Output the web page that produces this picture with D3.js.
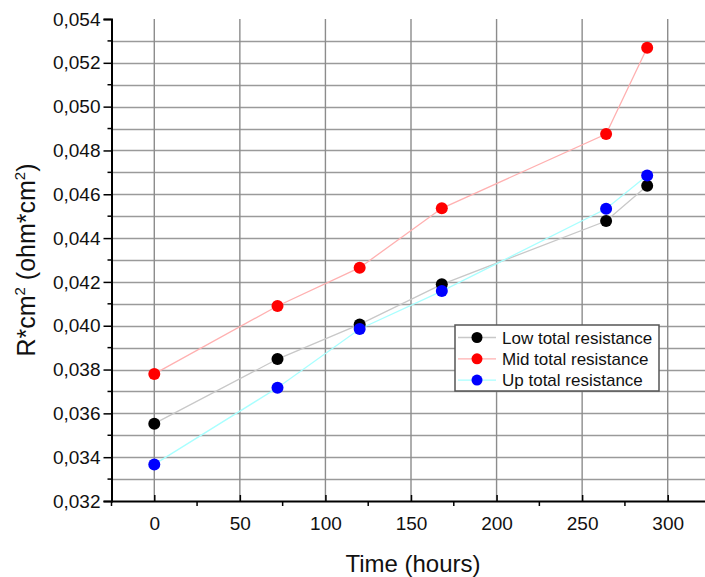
<!DOCTYPE html>
<html>
<head>
<meta charset="utf-8">
<script src="https://cdn.jsdelivr.net/npm/d3@7"></script>
<style>
  body { margin: 0; background: #fff; }
  svg { font-family: Arial, "Liberation Sans", sans-serif; }
</style>
</head>
<body>
<div id="chart"></div>
<script>
// data
var hours = [0, 72, 120, 168, 264, 288];
var lowTotal = [0.03553, 0.03848, 0.04006, 0.04189, 0.04478, 0.04639];
var midTotal = [0.0378, 0.0409, 0.04265, 0.04536, 0.04875, 0.05269];
var upTotal = [0.03367, 0.03717, 0.03985, 0.04158, 0.04534, 0.04686];
var seriesNames = ["Low total resistance", "Mid total resistance", "Up total resistance"];
var xTicks = [0, 50, 100, 150, 200, 250, 300];
var yTicks = [0.032, 0.034, 0.036, 0.038, 0.040, 0.042, 0.044, 0.046, 0.048, 0.050, 0.052, 0.054];

var width = 705, height = 577;

var series = [
    {name: seriesNames[0], values: lowTotal, dot: "#000000", line: "#c8c8c8"},
    {name: seriesNames[1], values: midTotal, dot: "#ff0000", line: "#ffb0b0"},
    {name: seriesNames[2], values: upTotal, dot: "#0000ff", line: "#a8ffff"}
];

var x = d3.scaleLinear().domain([-25, 325]).range([111.5, 710.5]);
var y = d3.scaleLinear().domain([0.032, 0.054]).range([501, 19]);

var svg = d3.select("#chart").append("svg")
    .attr("width", width)
    .attr("height", height);

var fmt = function (d) { return d3.format(".3f")(d).replace(".", ","); };

// horizontal grid, every 0.001
var hGrid = d3.range(0.033, 0.0535, 0.001);
svg.append("g").selectAll("line")
    .data(hGrid)
    .enter().append("line")
    .attr("x1", x(-25)).attr("x2", width)
    .attr("y1", function (d) { return Math.round(y(d)) + 0.5; })
    .attr("y2", function (d) { return Math.round(y(d)) + 0.5; })
    .attr("stroke", "#9a9a9a")
    .attr("stroke-width", 1.4);

// vertical grid
svg.append("g").selectAll("line")
    .data(xTicks)
    .enter().append("line")
    .attr("x1", function (d) { return x(d); })
    .attr("x2", function (d) { return x(d); })
    .attr("y1", y(0.054)).attr("y2", y(0.032))
    .attr("stroke", "#8c8c8c")
    .attr("stroke-width", 1.4);

// series lines
var line = d3.line()
    .x(function (d, i) { return x(hours[i]); })
    .y(function (d) { return y(d); });

series.forEach(function (s) {
    svg.append("path")
        .datum(s.values)
        .attr("fill", "none")
        .attr("stroke", s.line)
        .attr("stroke-width", 1.3)
        .attr("d", line);
});

// markers
series.forEach(function (s) {
    svg.append("g").selectAll("circle")
        .data(s.values)
        .enter().append("circle")
        .attr("cx", function (d, i) { return x(hours[i]); })
        .attr("cy", function (d) { return y(d); })
        .attr("r", 6)
        .attr("fill", s.dot);
});

// Y axis
var yAxis = d3.axisLeft(y).tickValues(yTicks).tickFormat(fmt).tickSize(8).tickPadding(3);
var gy = svg.append("g")
    .attr("transform", "translate(" + x(-25) + ",0)")
    .call(yAxis);
gy.select(".domain").attr("stroke-width", 2);
gy.selectAll(".tick line").attr("stroke-width", 1.5);
gy.selectAll("text").attr("font-size", 19).attr("fill", "#111");
// minor y ticks
svg.append("g").selectAll("line")
    .data(d3.range(0.033, 0.054, 0.002))
    .enter().append("line")
    .attr("x1", x(-25) - 4).attr("x2", x(-25))
    .attr("y1", function (d) { return y(d); })
    .attr("y2", function (d) { return y(d); })
    .attr("stroke", "#000").attr("stroke-width", 1.5);

// X axis
var xAxis = d3.axisBottom(x).tickValues(xTicks).tickSizeInner(-6).tickSizeOuter(0).tickPadding(16);
var gx = svg.append("g")
    .attr("transform", "translate(0," + y(0.032) + ")")
    .call(xAxis);
gx.select(".domain").attr("stroke-width", 2);
gx.selectAll(".tick line").attr("stroke-width", 1.5);
gx.selectAll("text").attr("font-size", 19).attr("fill", "#111");
// minor x ticks
svg.append("g").selectAll("line")
    .data([-25, 25, 75, 125, 175, 225, 275, 325])
    .enter().append("line")
    .attr("x1", function (d) { return x(d); })
    .attr("x2", function (d) { return x(d); })
    .attr("y1", y(0.032)).attr("y2", y(0.032) + 5)
    .attr("stroke", "#000").attr("stroke-width", 1.5);

// axis titles
svg.append("text")
    .attr("x", 413)
    .attr("y", 572)
    .attr("text-anchor", "middle")
    .attr("font-size", 24)
    .attr("fill", "#111")
    .text("Time (hours)");

var yt = svg.append("text")
    .attr("transform", "translate(35,260) rotate(-90)")
    .attr("text-anchor", "middle")
    .attr("font-size", 25)
    .attr("fill", "#111");
yt.append("tspan").text("R*cm");
yt.append("tspan").attr("font-size", 15).attr("dy", -10).text("2");
yt.append("tspan").attr("dy", 10).text(" (ohm*cm");
yt.append("tspan").attr("font-size", 15).attr("dy", -10).text("2");
yt.append("tspan").attr("dy", 10).text(")");

// legend
var legend = svg.append("g").attr("transform", "translate(455,325)");
legend.append("rect")
    .attr("width", 204).attr("height", 66)
    .attr("fill", "#fff")
    .attr("stroke", "#555")
    .attr("stroke-width", 1.5);
series.forEach(function (s, i) {
    var ly = 12.5 + i * 21.3;
    legend.append("line")
        .attr("x1", 3).attr("x2", 41)
        .attr("y1", ly).attr("y2", ly)
        .attr("stroke", s.line).attr("stroke-width", 1.3);
    legend.append("circle")
        .attr("cx", 22).attr("cy", ly).attr("r", 5.5)
        .attr("fill", s.dot);
    legend.append("text")
        .attr("x", 47).attr("y", ly + 6)
        .attr("font-size", 17)
        .attr("fill", "#111")
        .text(s.name);
});
</script>
</body>
</html>
